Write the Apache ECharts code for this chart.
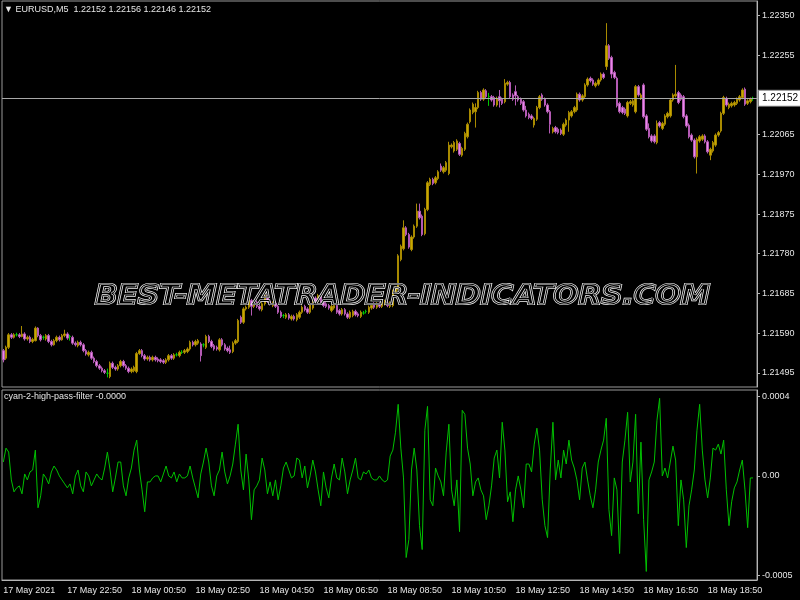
<!DOCTYPE html>
<html>
<head>
<meta charset="utf-8">
<script src="https://cdn.jsdelivr.net/npm/echarts@6.0.0/dist/echarts.min.js"></script>
<style>html,body{margin:0;padding:0;background:#000;}#c{width:800px;height:600px;}</style>
</head>
<body>
<div id="c"></div>
<script>
// ---- data (EURUSD M5) ----
const symbolTitle = 'EURUSD,M5';
const indicatorName = 'cyan-2-high-pass-filter';
const tickLabels = ['17 May 2021','17 May 22:50','18 May 00:50','18 May 02:50','18 May 04:50','18 May 06:50','18 May 08:50','18 May 10:50','18 May 12:50','18 May 14:50','18 May 16:50','18 May 18:50'];
const priceTicks = [1.22350,1.22255,1.22160,1.22065,1.21970,1.21875,1.21780,1.21685,1.21590,1.21495];
const hpfTicks = [0.0004, 0, -0.0005];
const hpfTickLabels = ['0.0004','0.00','-0.0005'];
const watermark = 'BEST-METATRADER-INDICATORS.COM';

const opens = [
1.21548,1.21530,1.21556,1.21586,1.21580,1.21586,1.21586,1.21582,1.21588,1.21576,
1.21580,1.21570,1.21572,1.21602,1.21584,1.21580,1.21576,1.21584,1.21570,1.21562,
1.21572,1.21580,1.21574,1.21584,1.21588,1.21582,1.21580,1.21566,1.21560,1.21568,
1.21562,1.21548,1.21538,1.21544,1.21530,1.21522,1.21512,1.21506,1.21500,1.21494,
1.21486,1.21518,1.21508,1.21504,1.21512,1.21522,1.21512,1.21506,1.21498,1.21500,
1.21498,1.21541,1.21548,1.21536,1.21528,1.21532,1.21526,1.21532,1.21528,1.21526,
1.21524,1.21520,1.21526,1.21536,1.21530,1.21538,1.21536,1.21544,1.21544,1.21546,
1.21552,1.21568,1.21562,1.21566,1.21564,1.21562,1.21556,1.21582,1.21570,1.21560,
1.21556,1.21550,1.21574,1.21562,1.21554,1.21550,1.21546,1.21566,1.21570,1.21628,
1.21616,1.21648,1.21652,1.21668,1.21654,1.21664,1.21654,1.21646,1.21660,1.21680,
1.21666,1.21656,1.21662,1.21654,1.21640,1.21632,1.21628,1.21634,1.21624,1.21630,
1.21622,1.21628,1.21640,1.21654,1.21648,1.21640,1.21650,1.21674,1.21666,1.21680,
1.21664,1.21660,1.21656,1.21644,1.21650,1.21656,1.21644,1.21636,1.21646,1.21636,
1.21628,1.21632,1.21642,1.21636,1.21630,1.21638,1.21642,1.21640,1.21650,1.21660,
1.21652,1.21660,1.21654,1.21660,1.21662,1.21654,1.21656,1.21688,1.21696,1.21766,
1.21792,1.21842,1.21826,1.21790,1.21820,1.21846,1.21882,1.21870,1.21828,1.21886,
1.21946,1.21958,1.21950,1.21960,1.21990,1.21976,1.21980,1.21972,1.22036,1.22026,
1.22030,1.22044,1.22016,1.22030,1.22060,1.22096,1.22118,1.22120,1.22130,1.22166,
1.22150,1.22170,1.22156,1.22156,1.22154,1.22136,1.22156,1.22150,1.22144,1.22186,
1.22190,1.22160,1.22168,1.22156,1.22150,1.22144,1.22124,1.22114,1.22110,1.22088,
1.22102,1.22130,1.22160,1.22150,1.22136,1.22120,1.22072,1.22082,1.22078,1.22076,
1.22066,1.22088,1.22100,1.22110,1.22120,1.22124,1.22162,1.22148,1.22156,1.22184,
1.22200,1.22196,1.22182,1.22186,1.22196,1.22210,1.22228,1.22278,1.22250,1.22214,
1.22200,1.22140,1.22130,1.22126,1.22110,1.22140,1.22136,1.22120,1.22180,1.22152,
1.22184,1.22110,1.22080,1.22062,1.22062,1.22046,1.22094,1.22080,1.22090,1.22108,
1.22110,1.22148,1.22158,1.22166,1.22160,1.22156,1.22110,1.22088,1.22064,1.22052,
1.22012,1.22050,1.22054,1.22062,1.22048,1.22016,1.22026,1.22040,1.22064,1.22074,
1.22116,1.22152,1.22130,1.22134,1.22136,1.22140,1.22148,1.22154,1.22174,1.22140,
1.22144,1.22152];

const closes = [
1.21526,1.21556,1.21586,1.21580,1.21586,1.21586,1.21582,1.21588,1.21576,1.21580,
1.21570,1.21575,1.21602,1.21584,1.21574,1.21580,1.21584,1.21570,1.21562,1.21572,
1.21580,1.21574,1.21584,1.21588,1.21578,1.21582,1.21566,1.21562,1.21568,1.21562,
1.21548,1.21540,1.21544,1.21530,1.21522,1.21512,1.21506,1.21500,1.21496,1.21494,
1.21518,1.21508,1.21504,1.21512,1.21522,1.21512,1.21506,1.21498,1.21504,1.21508,
1.21541,1.21548,1.21536,1.21528,1.21532,1.21526,1.21532,1.21526,1.21524,1.21522,
1.21520,1.21526,1.21536,1.21530,1.21538,1.21538,1.21544,1.21544,1.21548,1.21552,
1.21568,1.21562,1.21570,1.21572,1.21536,1.21562,1.21582,1.21570,1.21558,1.21552,
1.21552,1.21574,1.21562,1.21552,1.21548,1.21544,1.21566,1.21572,1.21620,1.21616,
1.21648,1.21652,1.21668,1.21654,1.21662,1.21654,1.21648,1.21660,1.21680,1.21666,
1.21660,1.21662,1.21654,1.21640,1.21630,1.21632,1.21634,1.21626,1.21630,1.21624,
1.21634,1.21640,1.21652,1.21646,1.21640,1.21658,1.21674,1.21666,1.21680,1.21664,
1.21656,1.21654,1.21650,1.21654,1.21656,1.21640,1.21636,1.21646,1.21636,1.21628,
1.21640,1.21642,1.21634,1.21632,1.21640,1.21638,1.21642,1.21652,1.21656,1.21652,
1.21660,1.21654,1.21664,1.21666,1.21656,1.21662,1.21690,1.21698,1.21775,1.21798,
1.21842,1.21826,1.21796,1.21820,1.21846,1.21882,1.21866,1.21826,1.21886,1.21950,
1.21958,1.21948,1.21962,1.21976,1.21980,1.21986,1.21998,1.22040,1.22040,1.22046,
1.22050,1.22018,1.22032,1.22068,1.22090,1.22124,1.22138,1.22130,1.22166,1.22150,
1.22172,1.22156,1.22156,1.22148,1.22136,1.22152,1.22146,1.22140,1.22188,1.22190,
1.22156,1.22150,1.22158,1.22148,1.22140,1.22124,1.22110,1.22106,1.22104,1.22104,
1.22130,1.22156,1.22150,1.22136,1.22120,1.22090,1.22080,1.22072,1.22070,1.22068,
1.22090,1.22100,1.22118,1.22120,1.22130,1.22162,1.22148,1.22158,1.22184,1.22198,
1.22194,1.22186,1.22188,1.22196,1.22210,1.22202,1.22278,1.22248,1.22210,1.22202,
1.22134,1.22120,1.22118,1.22116,1.22142,1.22144,1.22146,1.22180,1.22160,1.22160,
1.22108,1.22078,1.22060,1.22050,1.22048,1.22092,1.22086,1.22092,1.22110,1.22116,
1.22148,1.22160,1.22162,1.22142,1.22150,1.22108,1.22086,1.22060,1.22052,1.22012,
1.22054,1.22060,1.22062,1.22048,1.22024,1.22030,1.22046,1.22064,1.22070,1.22116,
1.22154,1.22136,1.22138,1.22140,1.22142,1.22150,1.22156,1.22172,1.22138,1.22146,
1.22150,1.22152];

const lows = [
1.21520,1.21526,1.21552,1.21576,1.21577,1.21582,1.21578,1.21580,1.21572,1.21572,
1.21566,1.21566,1.21570,1.21580,1.21570,1.21574,1.21572,1.21566,1.21558,1.21560,
1.21568,1.21570,1.21572,1.21580,1.21574,1.21572,1.21562,1.21558,1.21556,1.21558,
1.21544,1.21536,1.21534,1.21526,1.21518,1.21508,1.21502,1.21496,1.21492,1.21484,
1.21482,1.21504,1.21500,1.21500,1.21508,1.21508,1.21502,1.21494,1.21494,1.21496,
1.21494,1.21538,1.21532,1.21524,1.21524,1.21522,1.21522,1.21522,1.21520,1.21518,
1.21516,1.21516,1.21522,1.21526,1.21526,1.21534,1.21532,1.21540,1.21540,1.21542,
1.21548,1.21558,1.21558,1.21562,1.21522,1.21556,1.21552,1.21566,1.21554,1.21548,
1.21548,1.21546,1.21558,1.21548,1.21544,1.21540,1.21542,1.21562,1.21566,1.21612,
1.21612,1.21644,1.21648,1.21632,1.21650,1.21650,1.21644,1.21642,1.21656,1.21662,
1.21656,1.21652,1.21650,1.21636,1.21626,1.21626,1.21624,1.21622,1.21620,1.21620,
1.21618,1.21624,1.21636,1.21642,1.21636,1.21636,1.21646,1.21662,1.21662,1.21660,
1.21652,1.21650,1.21646,1.21640,1.21646,1.21636,1.21632,1.21632,1.21632,1.21624,
1.21624,1.21628,1.21630,1.21628,1.21626,1.21634,1.21637,1.21636,1.21646,1.21648,
1.21648,1.21650,1.21650,1.21656,1.21652,1.21650,1.21652,1.21684,1.21692,1.21762,
1.21788,1.21822,1.21792,1.21786,1.21816,1.21842,1.21862,1.21822,1.21824,1.21882,
1.21942,1.21944,1.21946,1.21956,1.21976,1.21972,1.21976,1.21968,1.22032,1.22022,
1.22026,1.22014,1.22012,1.22026,1.22056,1.22092,1.22114,1.22082,1.22126,1.22146,
1.22146,1.22152,1.22134,1.22144,1.22132,1.22132,1.22130,1.22136,1.22140,1.22182,
1.22152,1.22146,1.22135,1.22144,1.22136,1.22120,1.22106,1.22102,1.22100,1.22082,
1.22098,1.22126,1.22146,1.22132,1.22116,1.22068,1.22068,1.22068,1.22066,1.22064,
1.22062,1.22084,1.22072,1.22106,1.22116,1.22120,1.22144,1.22144,1.22152,1.22180,
1.22190,1.22182,1.22178,1.22182,1.22192,1.22198,1.22220,1.22244,1.22200,1.22198,
1.22130,1.22116,1.22114,1.22112,1.22106,1.22136,1.22132,1.22116,1.22156,1.22148,
1.22104,1.22074,1.22056,1.22046,1.22044,1.22042,1.22082,1.22076,1.22086,1.22104,
1.22106,1.22144,1.22154,1.22138,1.22146,1.22104,1.22082,1.22056,1.22048,1.22008,
1.21972,1.22046,1.22050,1.22044,1.22020,1.22004,1.22022,1.22036,1.22060,1.22070,
1.22112,1.22132,1.22126,1.22130,1.22132,1.22136,1.22144,1.22150,1.22134,1.22136,
1.22140,1.22146];

const highs = [
1.21552,1.21560,1.21590,1.21590,1.21590,1.21591,1.21590,1.21607,1.21592,1.21584,
1.21584,1.21579,1.21606,1.21604,1.21588,1.21584,1.21588,1.21588,1.21574,1.21576,
1.21584,1.21584,1.21588,1.21598,1.21592,1.21586,1.21584,1.21570,1.21572,1.21572,
1.21566,1.21552,1.21548,1.21548,1.21534,1.21526,1.21516,1.21510,1.21504,1.21505,
1.21522,1.21522,1.21512,1.21516,1.21526,1.21526,1.21516,1.21510,1.21508,1.21512,
1.21545,1.21552,1.21552,1.21540,1.21536,1.21536,1.21536,1.21536,1.21532,1.21530,
1.21528,1.21530,1.21540,1.21540,1.21542,1.21543,1.21548,1.21549,1.21552,1.21556,
1.21572,1.21572,1.21574,1.21576,1.21568,1.21566,1.21586,1.21586,1.21574,1.21564,
1.21560,1.21578,1.21578,1.21566,1.21558,1.21560,1.21570,1.21576,1.21624,1.21632,
1.21652,1.21656,1.21672,1.21672,1.21666,1.21668,1.21658,1.21664,1.21684,1.21684,
1.21670,1.21666,1.21666,1.21658,1.21644,1.21636,1.21638,1.21638,1.21634,1.21634,
1.21638,1.21644,1.21656,1.21658,1.21652,1.21662,1.21678,1.21678,1.21684,1.21684,
1.21668,1.21664,1.21660,1.21658,1.21660,1.21660,1.21648,1.21650,1.21650,1.21640,
1.21644,1.21646,1.21646,1.21640,1.21644,1.21643,1.21646,1.21656,1.21660,1.21664,
1.21664,1.21664,1.21668,1.21670,1.21666,1.21666,1.21694,1.21702,1.21779,1.21802,
1.21860,1.21846,1.21830,1.21824,1.21850,1.21900,1.21900,1.21874,1.21890,1.21954,
1.21962,1.21962,1.21966,1.21980,1.21996,1.21990,1.22002,1.22048,1.22044,1.22050,
1.22054,1.22048,1.22036,1.22072,1.22094,1.22128,1.22142,1.22140,1.22170,1.22170,
1.22176,1.22174,1.22165,1.22160,1.22158,1.22156,1.22172,1.22154,1.22198,1.22194,
1.22194,1.22164,1.22183,1.22160,1.22154,1.22148,1.22134,1.22118,1.22114,1.22108,
1.22134,1.22160,1.22164,1.22154,1.22140,1.22124,1.22084,1.22086,1.22082,1.22080,
1.22094,1.22104,1.22122,1.22124,1.22134,1.22166,1.22166,1.22162,1.22188,1.22202,
1.22204,1.22200,1.22192,1.22200,1.22214,1.22214,1.22332,1.22282,1.22254,1.22218,
1.22204,1.22144,1.22134,1.22130,1.22146,1.22148,1.22150,1.22184,1.22184,1.22164,
1.22188,1.22114,1.22092,1.22066,1.22066,1.22099,1.22098,1.22096,1.22114,1.22120,
1.22152,1.22164,1.22232,1.22170,1.22164,1.22160,1.22114,1.22092,1.22068,1.22056,
1.22058,1.22064,1.22066,1.22066,1.22052,1.22034,1.22050,1.22068,1.22074,1.22120,
1.22158,1.22156,1.22142,1.22144,1.22146,1.22154,1.22160,1.22176,1.22178,1.22150,
1.22154,1.22156];

const hpf = [
0.00007,0.00014,0.00012,-0.00002,-0.00008,-0.00006,-0.00005,-0.00009,0.00001,-0.00002,
0.00002,0.00003,0.00013,-0.00016,-0.00010,0.00001,-0.00001,-0.00004,0.00002,0.00005,
0.00003,0.00000,-0.00002,-0.00004,-0.00006,-0.00004,-0.00009,0.00000,0.00003,-0.00005,
-0.00008,0.00002,0.00000,-0.00005,-0.00002,0.00001,-0.00001,-0.00002,0.00004,0.00012,
0.00003,-0.00008,-0.00001,0.00007,0.00007,-0.00005,-0.00010,-0.00001,0.00004,0.00013,
0.00018,0.00003,-0.00007,-0.00018,-0.00003,-0.00003,-0.00001,0.00000,0.00000,-0.00003,
0.00001,0.00005,0.00000,-0.00001,0.00002,-0.00003,0.00001,-0.00001,-0.00001,0.00000,
0.00005,-0.00001,-0.00006,-0.00011,0.00001,0.00007,0.00014,0.00007,-0.00005,-0.00010,
0.00000,0.00003,0.00012,0.00002,-0.00004,0.00000,0.00006,0.00016,0.00026,0.00003,
-0.00007,0.00011,-0.00002,-0.00022,-0.00007,-0.00005,-0.00002,0.00009,0.00003,-0.00009,
-0.00003,-0.00010,-0.00002,-0.00012,-0.00005,0.00004,0.00007,0.00003,-0.00001,0.00000,
0.00009,0.00008,-0.00001,0.00005,-0.00006,0.00000,0.00008,0.00002,-0.00007,-0.00015,
0.00002,-0.00006,-0.00011,-0.00001,0.00006,-0.00001,-0.00002,0.00009,0.00002,-0.00009,
-0.00002,0.00003,0.00009,-0.00001,-0.00002,0.00002,0.00001,0.00003,-0.00001,-0.00002,
-0.00002,0.00000,-0.00002,-0.00003,-0.00002,0.00010,0.00013,0.00022,0.00036,0.00014,
-0.00001,-0.00041,-0.00032,0.00003,0.00014,0.00003,-0.00025,-0.00037,0.00023,0.00035,
-0.00012,-0.00015,0.00004,0.00000,-0.00003,-0.00010,0.00012,0.00026,-0.00007,-0.00015,
-0.00002,-0.00028,0.00033,0.00031,0.00014,0.00006,-0.00010,-0.00003,-0.00001,-0.00007,
-0.00010,-0.00022,-0.00015,-0.00005,0.00009,0.00013,-0.00001,0.00027,0.00013,-0.00013,
-0.00008,-0.00023,-0.00007,0.00000,-0.00007,-0.00016,0.00006,0.00006,0.00002,0.00016,
0.00024,0.00013,-0.00012,-0.00025,-0.00031,0.00003,0.00027,-0.00002,0.00008,-0.00001,
0.00013,0.00006,0.00018,0.00008,0.00004,-0.00002,-0.00012,0.00004,0.00007,-0.00002,
-0.00010,-0.00016,-0.00007,0.00007,0.00013,0.00018,0.00029,-0.00017,-0.00030,-0.00001,
-0.00007,-0.00039,0.00007,0.00018,0.00032,-0.00003,0.00007,0.00031,-0.00019,0.00017,
-0.00022,-0.00048,-0.00002,0.00002,0.00007,0.00028,0.00039,0.00000,0.00004,-0.00001,
0.00007,0.00015,0.00008,-0.00025,-0.00002,-0.00012,-0.00036,-0.00015,-0.00007,0.00003,
0.00023,0.00036,0.00013,-0.00002,-0.00011,-0.00001,0.00014,0.00013,0.00016,0.00011,
0.00018,-0.00007,-0.00025,-0.00013,-0.00006,-0.00003,0.00003,0.00008,-0.00007,-0.00026,
-0.00001,-0.00001];

// ---- chart ----
const N = opens.length + 1; // one empty slot at the right edge
const cats = Array.from({length: N}, (_, i) => String(i));
const BULL = '#c9a800', BULL_W = '#a88a00', BEAR = '#e88ae8', BEAR_W = '#b45ab4', DOJI = '#00c800';
const candles = opens.map((o, i) => {
  const v = [o, closes[i], lows[i], highs[i]];
  if (o === closes[i]) {
    return {value: v, itemStyle: {color: DOJI, color0: DOJI, borderColor: DOJI, borderColor0: DOJI}};
  }
  return v;
});
const last = opens.length - 1;
const f5 = v => v.toFixed(5);
const headText = '\u25BC ' + symbolTitle + '  ' + f5(opens[last]) + ' ' + f5(highs[last]) + ' ' + f5(lows[last]) + ' ' + f5(closes[last]);
const indText = indicatorName + ' ' + hpf[hpf.length - 1].toFixed(4);

// watermark horizontal stretch to span its width in the reference
const wmFont = 'italic bold 26px "DejaVu Sans"';
const cv = document.createElement('canvas').getContext('2d');
cv.font = wmFont;
const wmScale = 615 / cv.measureText(watermark).width;

const AXC = '#b4b4b4', TXT = '#e6e6e6', FONT = '"Liberation Sans", Arial, sans-serif';

const chart = echarts.init(document.getElementById('c'), null, {renderer: 'canvas'});
chart.setOption({
  backgroundColor: '#000',
  animation: false,
  grid: [
    {left: 2, right: 43, top: 1, height: 386, show: true, borderColor: '#9a9a9a', borderWidth: 1},
    {left: 2, right: 43, top: 390, height: 190, show: true, borderColor: '#9a9a9a', borderWidth: 1}
  ],
  xAxis: [
    {type: 'category', gridIndex: 0, data: cats, boundaryGap: true, show: false, axisLine: {onZero: false}},
    {type: 'category', gridIndex: 1, data: cats, boundaryGap: true,
      axisLine: {onZero: false, lineStyle: {color: AXC}},
      axisTick: {interval: (i) => i % 24 === 0, length: 4, lineStyle: {color: AXC}},
      axisLabel: {interval: (i) => i % 24 === 0, formatter: (v, i) => tickLabels[i / 24] || '',
        color: TXT, fontSize: 9, fontFamily: FONT, align: 'left', margin: 6},
      splitLine: {show: false}}
  ],
  yAxis: [
    {type: 'value', gridIndex: 0, position: 'right', min: 1.21461, max: 1.22385,
      splitLine: {show: false},
      axisLine: {show: true, lineStyle: {color: AXC}},
      axisTick: {show: true, customValues: priceTicks, length: 3, lineStyle: {color: AXC}},
      axisLabel: {customValues: priceTicks, formatter: v => v.toFixed(5), color: TXT, fontSize: 9, fontFamily: FONT, margin: 5}},
    {type: 'value', gridIndex: 1, position: 'right', min: -0.000523, max: 0.000432,
      splitLine: {show: false},
      axisLine: {show: true, lineStyle: {color: AXC}},
      axisTick: {show: true, customValues: hpfTicks, length: 3, lineStyle: {color: AXC}},
      axisLabel: {customValues: hpfTicks,
        formatter: v => { const k = hpfTicks.findIndex(t => Math.abs(t - v) < 1e-9); return k >= 0 ? hpfTickLabels[k] : ''; },
        color: TXT, fontSize: 9, fontFamily: FONT, margin: 5}}
  ],
  series: [
    {type: 'candlestick', xAxisIndex: 0, yAxisIndex: 0, data: candles, barWidth: 2, z: 2,
      itemStyle: {color: BULL, color0: BEAR, borderColor: BULL_W, borderColor0: BEAR_W, borderWidth: 1},
      markLine: {silent: true, symbol: 'none', animation: false, precision: 5,
        lineStyle: {color: '#a8a8a8', width: 1, type: 'solid'},
        label: {position: 'end', formatter: () => f5(closes[last]), backgroundColor: '#fff', color: '#000',
          borderColor: '#808080', borderWidth: 1, padding: [3, 3, 2, 3], fontSize: 10, fontFamily: FONT, distance: 2},
        data: [{yAxis: closes[last]}]}},
    {type: 'line', xAxisIndex: 1, yAxisIndex: 1, data: hpf, symbol: 'none',
      lineStyle: {color: '#00c000', width: 1}, z: 3}
  ],
  graphic: [
    {type: 'text', left: 4, top: 5, z: 100, style: {text: headText, fill: TXT, font: '9px ' + FONT}},
    {type: 'text', left: 4, top: 392, z: 100, style: {text: indText, fill: TXT, font: '9px ' + FONT}},
    {type: 'text', x: 95, y: 297, scaleX: wmScale, z: 90,
      style: {text: watermark, font: wmFont, fill: 'rgba(0,0,0,0)', stroke: '#f4f4f4', lineWidth: 2.2, verticalAlign: 'middle'}},
    {type: 'text', x: 95, y: 297, scaleX: wmScale, z: 91,
      style: {text: watermark, font: wmFont, fill: 'rgba(0,0,0,0)', stroke: '#000', lineWidth: 0.9, verticalAlign: 'middle'}}
  ]
});
</script>
</body>
</html>
